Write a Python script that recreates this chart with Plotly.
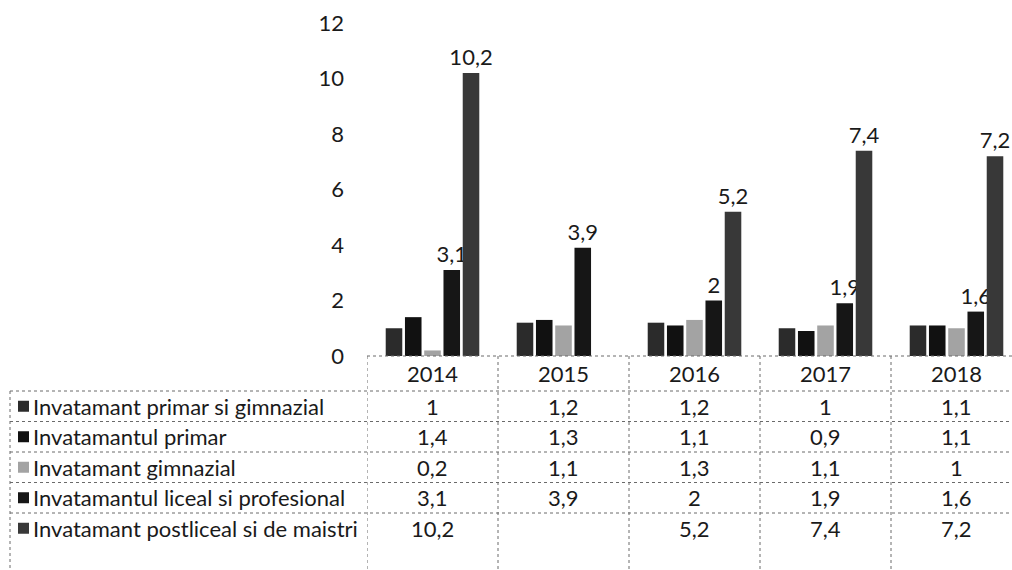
import plotly.graph_objects as go

W, H = 1012, 570

years = ["2014", "2015", "2016", "2017", "2018"]
series_names = [
    "Invatamant primar si gimnazial",
    "Invatamantul primar",
    "Invatamant gimnazial",
    "Invatamantul liceal si profesional",
    "Invatamant postliceal si de maistri",
]
primar_gimnazial = [1, 1.2, 1.2, 1, 1.1]
primar = [1.4, 1.3, 1.1, 0.9, 1.1]
gimnazial = [0.2, 1.1, 1.3, 1.1, 1]
liceal = [3.1, 3.9, 2, 1.9, 1.6]
postliceal = [10.2, None, 5.2, 7.4, 7.2]
y_ticks = [0, 2, 4, 6, 8, 10, 12]

all_series = [primar_gimnazial, primar, gimnazial, liceal, postliceal]
colors = ["#2b2b2b", "#111111", "#a3a3a3", "#161616", "#383838"]
labelled = [False, False, False, True, True]

FONT = "Lato, 'Noto Sans', sans-serif"
FS = 22
TXT = "#1a1a1a"
LINE = "#6a6a6a"


def fmt(v):
    return "" if v is None else f"{v:g}".replace(".", ",")


def py(px):  # pixel row -> paper y
    return 1 - px / H


def pxx(px):  # pixel col -> paper x
    return px / W


x0_px = 367
col_w = 131
x_range = [-0.5, -0.5 + (W - x0_px) / col_w]

fig = go.Figure()
for name, vals, c, lab in zip(series_names, all_series, colors, labelled):
    fig.add_trace(go.Bar(
        x=years, y=vals, name=name,
        marker=dict(color=c, line=dict(width=0)),
        text=[fmt(v) for v in vals] if lab else None,
        textposition="outside" if lab else "none",
        constraintext="none",
        textfont=dict(size=FS, color=TXT, family=FONT),
        cliponaxis=False,
    ))

# table geometry (pixels)
header_top, header_bot = 356, 391
row_h = 30.5
row_lines = [header_bot + i * row_h for i in range(5)]
table_left = 10

shapes = []
# top of the header row (runs along the bar baseline)
shapes.append(dict(type="line", xref="paper", yref="paper",
                   x0=pxx(x0_px), x1=1, y0=py(header_top), y1=py(header_top),
                   line=dict(color=LINE, width=1, dash="dot")))
for yl in row_lines:
    shapes.append(dict(type="line", xref="paper", yref="paper",
                       x0=pxx(table_left), x1=1, y0=py(yl), y1=py(yl),
                       line=dict(color=LINE, width=1, dash="dot")))
for i in range(len(years)):
    shapes.append(dict(type="line", xref="x", yref="paper",
                       x0=i - 0.5, x1=i - 0.5, y0=py(header_top), y1=0,
                       line=dict(color=LINE, width=1, dash="dot")))
shapes.append(dict(type="line", xref="paper", yref="paper",
                   x0=pxx(table_left), x1=pxx(table_left), y0=py(header_bot), y1=0,
                   line=dict(color=LINE, width=1, dash="dot")))

annotations = []
for i, y in enumerate(years):
    annotations.append(dict(x=i, xref="x", y=py((header_top + header_bot) / 2), yref="paper",
                            text=y, showarrow=False, xanchor="center", yanchor="middle",
                            font=dict(size=FS, color=TXT, family=FONT)))
for r, (name, vals, c) in enumerate(zip(series_names, all_series, colors)):
    yc = row_lines[r] + row_h / 2
    shapes.append(dict(type="rect", xref="paper", yref="paper",
                       x0=pxx(18), x1=pxx(29), y0=py(yc + 5.5), y1=py(yc - 5.5),
                       fillcolor=c, line=dict(width=0)))
    annotations.append(dict(x=pxx(31), xref="paper", y=py(yc), yref="paper",
                            text=name, showarrow=False, xanchor="left", yanchor="middle",
                            font=dict(size=FS, color=TXT, family=FONT)))
    for i, v in enumerate(vals):
        annotations.append(dict(x=i, xref="x", y=py(yc), yref="paper",
                                text=fmt(v), showarrow=False,
                                xanchor="center", yanchor="middle",
                                font=dict(size=FS, color=TXT, family=FONT)))

fig.update_layout(
    width=W, height=H,
    margin=dict(l=0, r=0, t=0, b=0, pad=0),
    paper_bgcolor="white", plot_bgcolor="white",
    font=dict(family=FONT, size=FS, color=TXT),
    barmode="group", bargap=0.265, bargroupgap=0.14,
    showlegend=False,
    separators=", ",
    xaxis=dict(type="category", domain=[pxx(x0_px), 1], range=x_range,
               showticklabels=False, showgrid=False, zeroline=False,
               showline=False, fixedrange=True, automargin=False),
    yaxis=dict(domain=[py(356), py(23)], range=[0, 12], tickvals=y_ticks,
               showgrid=False, zeroline=False, showline=False,
               ticks="", ticklabelstandoff=22, automargin=False,
               tickfont=dict(size=FS, color=TXT, family=FONT)),
    shapes=shapes,
    annotations=annotations,
)

fig.write_html("out.html", config={"displayModeBar": False},
               post_script="document.body.style.margin='0';")
